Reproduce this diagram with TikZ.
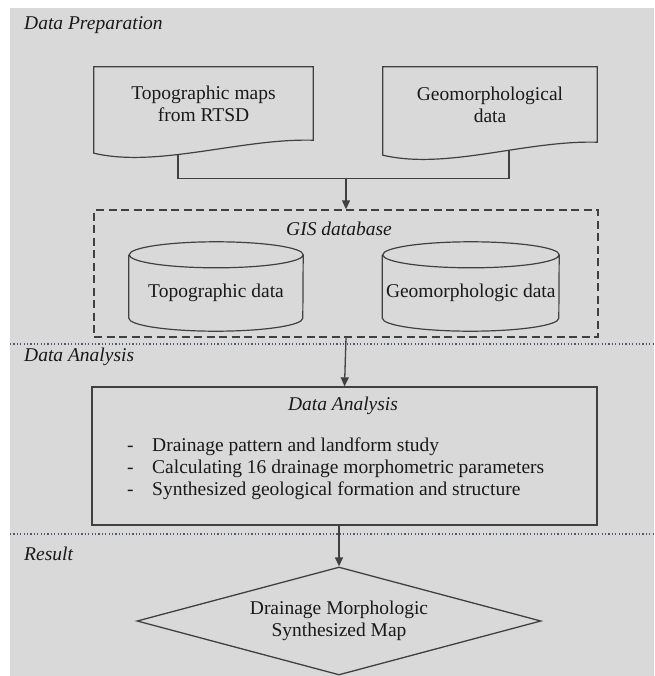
\documentclass[tikz,border=0pt]{standalone}
\usepackage{fontspec}
\setmainfont{LiberationSerif}[Extension=.ttf, UprightFont=*-Regular, ItalicFont=*-Italic, BoldFont=*-Bold]
\usepackage{xcolor}
\usepackage{tikz}
\usetikzlibrary{shapes.geometric,arrows.meta,positioning,calc}
\definecolor{panelgray}{RGB}{217,217,217}
\definecolor{edgegray}{RGB}{64,64,64}
\definecolor{dotgray}{RGB}{80,88,110}

\begin{document}
\begin{tikzpicture}[x=1pt, y=-1pt,
    txt/.style={font=\rmfamily\fontsize{19.5}{22}\selectfont, text=black!90, align=center},
    head/.style={font=\rmfamily\fontsize{19.5}{22}\selectfont\itshape, text=black!90, anchor=west, inner sep=0pt},
    docbox/.style={rectangle, inner sep=0pt, txt},
    dbbox/.style={rectangle, inner sep=0pt, minimum height=76, txt},
    outline/.style={draw=edgegray, line width=1.2pt},
    conn/.style={draw=edgegray, line width=1.3pt},
    arr/.style={conn, -{Triangle[length=9pt,width=8pt]}},
    sep/.style={draw=dotgray, line width=1.1pt, dash pattern=on 1.1pt off 2.3pt}
]
    % Background panel
    \useasboundingbox (0,0) rectangle (654,676);
    \fill[white] (0,0) rectangle (654,676);
    \fill[panelgray] (10,8) rectangle (654,676);

    % Section headers and separators
    \node[head] (hprep) at (24,25) {Data Preparation};
    \node[head] (hana) at (24,357) {Data Analysis};
    \node[head] (hres) at (24,554) {Result};
    \draw[sep] (10,344) -- (654,344);
    \draw[sep] (10,534) -- (654,534);

    % Source documents
    \node[docbox, minimum width=219, minimum height=73] (maps) at (203.5,103.5) {Topographic maps\\from RTSD};
    \node[docbox, minimum width=214, minimum height=75] (geo) at (490,104.5) {Geomorphological\\data};
    \foreach \n/\p in {maps/0.6, geo/0.4}
        \draw[outline] ($(\n.south west)+(0,13)$) -- (\n.north west) -- (\n.north east) -- (\n.south east)
            .. controls ($(\n.south east)+(-72,-2)$) and ($(\n.south west)+(64,28)$) .. ($(\n.south west)+(0,13)$)
            coordinate[pos=\p] (\n-w) -- cycle;

    % GIS database
    \node[rectangle, draw=edgegray, line width=1.4pt, dash pattern=on 8pt off 4.5pt, minimum width=504, minimum height=127] (gis) at (346,273.5) {};
    \node[head, anchor=center] (gislbl) at (339,229) {GIS database};
    \node[dbbox, minimum width=174] (topo) at (216,293) {Topographic data};
    \node[dbbox, minimum width=176.5] (geomdb) at (470.75,293) {Geomorphologic data};
    \foreach \n/\r in {topo/87, geomdb/88.25}
        \draw[outline] (\n.north west) -- ($(\n.south west)+(0,-13)$)
            arc[start angle=180, end angle=360, x radius=\r pt, y radius=13pt] -- (\n.north east)
            arc[start angle=0, end angle=360, x radius=\r pt, y radius=13pt];

    % Data analysis
    \node[rectangle, draw=edgegray, line width=1.3pt, minimum width=505, minimum height=138] (ana) at (344.5,456) {};
    \node[head, anchor=center] (anatitle) at (343,406) {Data Analysis};
    \node[txt, align=left, anchor=west, inner sep=0pt] (anaitems) at (127,469)
        {\makebox[25pt][l]{-}Drainage pattern and landform study\\
         \makebox[25pt][l]{-}Calculating 16 drainage morphometric parameters\\
         \makebox[25pt][l]{-}Synthesized geological formation and structure};

    % Result
    \node[diamond, draw=edgegray, line width=1.3pt, aspect=3.74, minimum width=404, minimum height=108, inner sep=0pt, txt] (result) at (339,621) {Drainage Morphologic\\Synthesized Map};

    % Connections
    \draw[conn] (maps-w) -- ++(0,24) coordinate (jn) -| (geo-w);
    \draw[arr] (jn -| gis.north) -- (gis.north);
    \draw[arr] (gis.south) -- (ana.north);
    \draw[arr] (ana.south -| result.north) -- (result.north);

\end{tikzpicture}
\end{document}
